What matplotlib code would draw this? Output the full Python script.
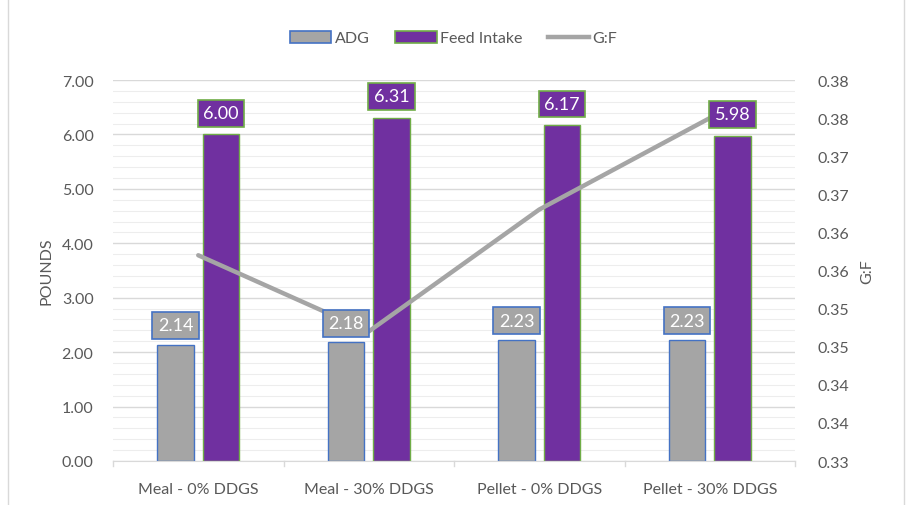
import matplotlib
matplotlib.use("Agg")
import matplotlib.pyplot as plt
import numpy as np
from matplotlib.lines import Line2D
from matplotlib.patches import Patch, Rectangle

plt.rcParams['font.family'] = ['Lato', 'DejaVu Sans']

categories = ["Meal - 0% DDGS", "Meal - 30% DDGS", "Pellet - 0% DDGS", "Pellet - 30% DDGS"]
adg = [2.14, 2.18, 2.23, 2.23]
feed_intake = [6.00, 6.31, 6.17, 5.98]
gf = [0.357, 0.347, 0.363, 0.375]
left_ticks = [0, 1, 2, 3, 4, 5, 6, 7]
right_ticks = [0.33, 0.335, 0.34, 0.345, 0.35, 0.355, 0.36, 0.365, 0.37, 0.375, 0.38]
right_labels = ["0.33", "0.34", "0.34", "0.35", "0.35", "0.36", "0.36", "0.37", "0.37", "0.38", "0.38"]

gray = "#A5A5A5"
purple = "#7030A0"
blue_edge = "#4472C4"
green_edge = "#70AD47"
text_col = "#595959"

fig = plt.figure(figsize=(9.07, 5.06), dpi=100)
fig.patches.append(Rectangle((0.009, -0.01), 0.988, 1.02, transform=fig.transFigure,
                             fill=False, edgecolor="#D9D9D9", lw=1.0))
ax = fig.add_axes([113/907, 1-462/506, (795-113)/907, (462-81)/506])
ax2 = ax.twinx()

x = np.arange(len(categories))
w = 0.215
off = 0.133

ax.set_ylim(0, 7)
ax.set_xlim(-0.5, 3.5)
for v in np.arange(0, 7.01, 0.2):
    major = abs(v - round(v)) < 1e-6
    ax.axhline(v, color="#D9D9D9" if major else "#EDEDED", lw=1.0 if major else 0.8, zorder=0)

ax.bar(x - off, adg, w, color=gray, edgecolor=blue_edge, lw=1.0, zorder=2)
ax.bar(x + off, feed_intake, w, color=purple, edgecolor=green_edge, lw=1.0, zorder=2)

ax2.set_ylim(0.33, 0.38)
ax2.plot(x, gf, color=gray, lw=3.2, zorder=3, solid_capstyle='round')
ax2.patch.set_visible(False)

for xi, v in zip(x, adg):
    ax2.text(xi - off, v + 0.35, f"{v:.2f}", transform=ax.transData, ha="center", va="center", color="white",
             fontsize=13, zorder=5, bbox=dict(boxstyle="square,pad=0.3", fc=gray, ec=blue_edge, lw=1.2))
for xi, v in zip(x, feed_intake):
    ax2.text(xi + off, v + 0.39, f"{v:.2f}", transform=ax.transData, ha="center", va="center", color="white",
             fontsize=13, zorder=5, bbox=dict(boxstyle="square,pad=0.3", fc=purple, ec=green_edge, lw=1.2))

ax.set_yticks(left_ticks)
ax.set_yticklabels([f"{v:.2f}" for v in left_ticks])
ax2.set_yticks(right_ticks)
ax2.set_yticklabels(right_labels)
ax.set_xticks(x)
ax.set_xticklabels(categories)

for a in (ax, ax2):
    for s in a.spines.values():
        s.set_visible(False)
    a.tick_params(axis='y', length=0, labelsize=11.5, labelcolor=text_col)
ax.tick_params(axis='x', length=0, labelsize=11.5, labelcolor=text_col, pad=15)
ax.tick_params(axis='y', pad=14)
ax2.tick_params(axis='y', pad=16)
ax.spines['bottom'].set_visible(True)
ax.spines['bottom'].set_color("#D9D9D9")
for b in np.arange(-0.5, 3.6, 1.0):
    ax.plot([b, b], [0, -0.1], color="#D9D9D9", lw=1, clip_on=False, zorder=1)

ax.set_ylabel("POUNDS", color=text_col, fontsize=11.5, labelpad=6)
ax2.set_ylabel("G:F", color=text_col, fontsize=11.5, labelpad=8)

handles = [Patch(fc=gray, ec=blue_edge, lw=1.2, label="ADG"),
           Patch(fc=purple, ec=green_edge, lw=1.2, label="Feed Intake"),
           Line2D([0], [0], color=gray, lw=3.2, label="G:F")]
fig.legend(handles=handles, loc="center", bbox_to_anchor=(0.5, 1-39/506), ncol=3, frameon=False,
           fontsize=11.5, labelcolor=text_col, handlelength=2.6, handleheight=0.8, columnspacing=1.6,
           handletextpad=0.2)

fig.savefig("out.png", dpi=100)
